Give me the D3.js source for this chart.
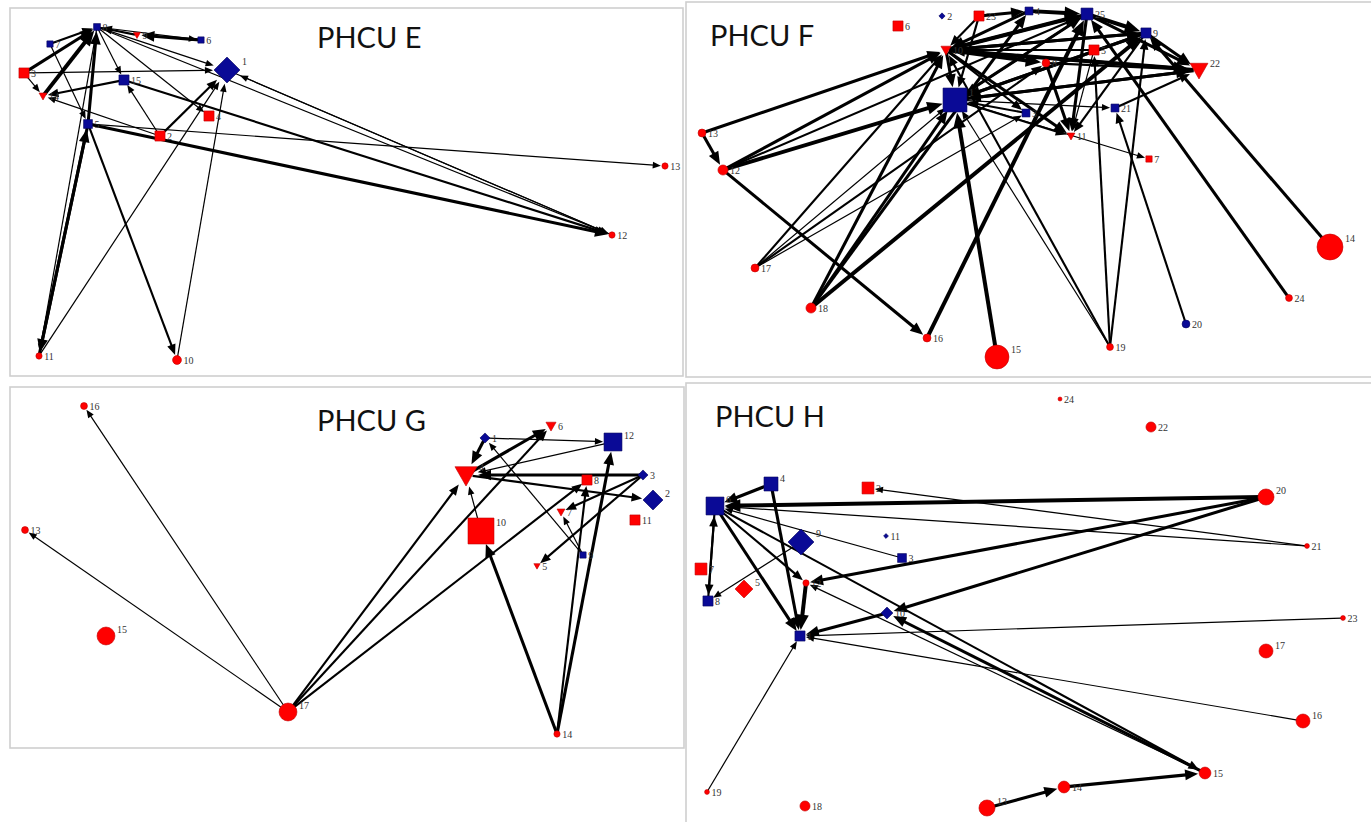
<!DOCTYPE html>
<html>
<head>
<meta charset="utf-8">
<script src="https://cdn.jsdelivr.net/npm/d3@7/dist/d3.min.js"></script>
<style>
  body { margin: 0; background: #fff; }
  .lbl { font-family: "Liberation Serif", serif; }
  .ttl { font-family: Lato, "Open Sans", sans-serif; }
</style>
</head>
<body>
<svg width="1371" height="822"></svg>
<script>
// nodes: [id, layoutX, layoutY, size, shape, group]  (c circle, s square, d diamond, t triangle; r / b group)
var nodesE = [
  [1, 217, 62, 86, "d", "b"], [2, 150, 128, 13, "s", "r"], [3, 14, 65, 13, "s", "r"],
  [4, 199, 108, 13, "s", "r"], [5, 78, 116, 10, "s", "b"], [6, 191, 32, 5, "s", "b"],
  [7, 40, 36, 5, "s", "b"], [8, 87, 19, 6, "s", "b"], [9, 127, 27, 6, "t", "r"],
  [10, 167, 352, 10, "c", "r"], [11, 29, 348, 5, "c", "r"], [12, 602, 227, 5, "c", "r"],
  [13, 655, 158, 5, "c", "r"], [14, 33, 88, 8, "t", "r"], [15, 114, 72, 13, "s", "b"]
];
// edges: [source, target, weight]
var edgesE = [
  [3, 8, 3], [14, 8, 4], [5, 8, 3], [7, 8, 2], [9, 8, 2], [8, 11, 1], [6, 9, 3], [8, 6, 1],
  [8, 1, 1], [3, 1, 1], [3, 14, 1], [15, 14, 2], [8, 15, 1], [2, 15, 1], [2, 1, 2], [8, 4, 1],
  [7, 5, 1], [2, 14, 1], [5, 13, 1], [1, 12, 1], [8, 12, 1], [15, 12, 2], [5, 12, 3],
  [12, 1, 1], [11, 1, 1], [10, 1, 1], [5, 10, 2], [5, 11, 3], [11, 5, 3]
];

var nodesF = [
  [1, 269, 98, 73, "s", "b"], [2, 256, 14, 5, "d", "b"], [3, 340, 111, 8, "s", "b"],
  [4, 343, 9, 8, "s", "b"], [5, 408, 48, 13, "s", "r"], [6, 212, 24, 13, "s", "r"],
  [7, 463, 157, 5, "s", "r"], [8, 360, 61, 8, "c", "r"], [9, 460, 31, 13, "s", "b"],
  [10, 260, 48, 13, "t", "r"], [11, 385, 134, 8, "t", "r"], [12, 37, 168, 13, "c", "r"],
  [13, 16, 131, 8, "c", "r"], [14, 644, 245, 86, "c", "r"], [15, 311, 355, 73, "c", "r"],
  [16, 241, 336, 8, "c", "r"], [17, 69, 266, 8, "c", "r"], [18, 125, 306, 13, "c", "r"],
  [19, 424, 345, 6, "c", "r"], [20, 500, 322, 8, "c", "b"], [21, 429, 106, 8, "s", "b"],
  [22, 513, 68, 41, "t", "r"], [23, 293, 14, 13, "s", "r"], [24, 603, 296, 6, "c", "r"],
  [25, 401, 12, 18, "s", "b"]
];
var edgesF = [
  [13, 12, 3], [13, 10, 3], [12, 10, 3], [12, 1, 4], [12, 25, 2], [12, 16, 3],
  [17, 10, 2], [17, 1, 1], [17, 8, 2], [17, 3, 1],
  [18, 10, 3], [18, 1, 3], [18, 4, 3], [18, 9, 4],
  [16, 25, 4], [15, 1, 4], [19, 1, 1], [19, 10, 2], [19, 5, 2], [19, 9, 2],
  [20, 21, 2], [24, 25, 3], [14, 9, 3],
  [23, 4, 3], [23, 10, 2], [4, 25, 4], [10, 25, 4], [10, 9, 3], [10, 22, 4], [1, 25, 3],
  [1, 9, 3], [1, 22, 3], [25, 9, 4], [25, 22, 3], [9, 22, 3], [8, 22, 2], [22, 1, 3],
  [22, 10, 3], [10, 1, 3], [25, 10, 3], [4, 10, 3], [25, 1, 2], [9, 10, 3], [21, 22, 2],
  [1, 21, 1], [3, 1, 2], [8, 11, 3], [25, 11, 3], [9, 11, 2], [10, 11, 3], [1, 11, 2],
  [10, 3, 2], [1, 7, 1], [5, 10, 2], [23, 1, 2], [10, 8, 4], [9, 1, 3], [5, 11, 1]
];

var nodesG = [
  [1, 475, 51, 13, "d", "b"], [2, 643, 113, 51, "d", "b"], [3, 633, 88, 13, "d", "b"],
  [4, 456, 88, 62, "t", "r"], [5, 527, 179, 5, "t", "r"], [6, 541, 39, 13, "t", "r"],
  [7, 551, 125, 8, "t", "r"], [8, 577, 93, 13, "s", "r"], [9, 573, 168, 5, "s", "b"],
  [10, 471, 144, 86, "s", "r"], [11, 625, 133, 13, "s", "r"], [12, 603, 55, 41, "s", "b"],
  [13, 15, 143, 6, "c", "r"], [14, 547, 347, 5, "c", "r"], [15, 96, 249, 41, "c", "r"],
  [16, 74, 19, 6, "c", "r"], [17, 278, 325, 41, "c", "r"]
];
var edgesG = [
  [17, 16, 1], [17, 13, 1], [17, 4, 2], [17, 6, 2], [17, 8, 2],
  [1, 4, 3], [1, 12, 1], [9, 1, 1], [4, 6, 3], [12, 4, 1], [3, 4, 3], [4, 2, 2],
  [3, 7, 2], [3, 5, 2], [9, 7, 1], [10, 4, 1], [14, 10, 3], [14, 8, 2], [14, 12, 3]
];

var nodesH = [
  [1, 114, 253, 13, "s", "b"], [2, 182, 105, 18, "s", "r"], [3, 216, 175, 10, "s", "b"],
  [4, 85, 101, 25, "s", "b"], [5, 58, 206, 41, "d", "r"], [6, 29, 123, 41, "s", "b"],
  [7, 15, 186, 18, "s", "r"], [8, 22, 218, 13, "s", "b"], [9, 115, 159, 86, "d", "b"],
  [10, 201, 230, 18, "d", "b"], [11, 200, 153, 3, "d", "b"], [12, 120, 200, 5, "c", "r"],
  [13, 301, 425, 33, "c", "r"], [14, 378, 404, 18, "c", "r"], [15, 519, 390, 18, "c", "r"],
  [16, 617, 338, 25, "c", "r"], [17, 580, 268, 25, "c", "r"], [18, 119, 423, 13, "c", "r"],
  [19, 21, 409, 3, "c", "r"], [20, 580, 114, 33, "c", "r"], [21, 621, 163, 3, "c", "r"],
  [22, 465, 44, 13, "c", "r"], [23, 657, 235, 3, "c", "r"], [24, 374, 16, 2, "c", "r"]
];
var edgesH = [
  [20, 6, 4], [21, 6, 1], [21, 2, 1], [20, 12, 3], [20, 10, 3], [10, 1, 3],
  [4, 6, 3], [4, 1, 3], [6, 8, 2], [8, 6, 2], [6, 12, 2], [6, 1, 3],
  [6, 15, 2], [15, 10, 3], [15, 12, 1], [3, 6, 1], [9, 8, 1], [12, 1, 4],
  [23, 1, 1], [16, 1, 1], [19, 1, 1], [13, 14, 3], [14, 15, 3]
];

var panels = [
  { title: "PHCU E", x: 10, y: 8, w: 673, h: 368, tx: 317, ty: 48, nodes: nodesE, edges: edgesE },
  { title: "PHCU F", x: 686, y: 2, w: 690, h: 375, tx: 710, ty: 46, nodes: nodesF, edges: edgesF },
  { title: "PHCU G", x: 10, y: 387, w: 674, h: 361, tx: 317, ty: 431, nodes: nodesG, edges: edgesG },
  { title: "PHCU H", x: 686, y: 383, w: 690, h: 445, tx: 715, ty: 427, nodes: nodesH, edges: edgesH }
];

var svg = d3.select("svg");
var color = { r: "#ff0000", b: "#0a0a96" };
var stroke = { r: "#c00000", b: "#05055e" };
var scaleSize = d3.scaleSqrt().domain([0, 100]).range([0, 14]);
var scaleWidth = d3.scaleLinear().domain([1, 4]).range([1.2, 4]);

function shapePath(shape, r) {
  if (shape === "s") return "M" + (-r) + "," + (-r) + "h" + 2 * r + "v" + 2 * r + "h" + (-2 * r) + "Z";
  if (shape === "d") return "M0," + (-r) + "L" + r + ",0L0," + r + "L" + (-r) + ",0Z";
  if (shape === "t") return "M" + (-r) + "," + (-r * 0.75) + "L" + r + "," + (-r * 0.75) + "L0," + r + "Z";
  return "M" + (-r) + ",0A" + r + "," + r + " 0 1,0 " + r + ",0A" + r + "," + r + " 0 1,0 " + (-r) + ",0Z";
}

panels.forEach(function(p) {
  var sx = d3.scaleLinear().domain([0, p.w]).range([p.x, p.x + p.w]);
  var sy = d3.scaleLinear().domain([0, p.h]).range([p.y, p.y + p.h]);
  var g = svg.append("g");

  g.append("rect")
    .attr("x", p.x).attr("y", p.y)
    .attr("width", p.w).attr("height", p.h)
    .attr("fill", "#fff")
    .attr("stroke", "#cfcfcf")
    .attr("stroke-width", 1.6);

  var byId = {};
  var nodes = p.nodes.map(function(n) {
    var d = { id: n[0], x: sx(n[1]), y: sy(n[2]), r: scaleSize(n[3]), shape: n[4], grp: n[5] };
    byId[d.id] = d;
    return d;
  });

  var links = p.edges.map(function(e) {
    var s = byId[e[0]], t = byId[e[1]], w = scaleWidth(e[2]);
    var dx = t.x - s.x, dy = t.y - s.y, len = Math.sqrt(dx * dx + dy * dy);
    var ux = dx / len, uy = dy / len;
    var tip = [t.x - ux * (t.r + 1), t.y - uy * (t.r + 1)];
    var L = 5 + 2.6 * w, hw = 2 + 1.1 * w;
    var base = [tip[0] - ux * L, tip[1] - uy * L];
    return {
      w: w,
      x1: s.x + ux * s.r * 0.6, y1: s.y + uy * s.r * 0.6,
      x2: base[0] + ux, y2: base[1] + uy,
      head: [tip, [base[0] - uy * hw, base[1] + ux * hw], [base[0] + uy * hw, base[1] - ux * hw]]
    };
  });

  g.append("g").selectAll("line")
    .data(links).enter()
    .append("line")
    .attr("x1", function(d) { return d.x1; })
    .attr("y1", function(d) { return d.y1; })
    .attr("x2", function(d) { return d.x2; })
    .attr("y2", function(d) { return d.y2; })
    .attr("stroke", "#000")
    .attr("stroke-width", function(d) { return d.w; });

  g.append("g").selectAll("path")
    .data(links).enter()
    .append("path")
    .attr("d", function(d) { return "M" + d.head.join("L") + "Z"; })
    .attr("fill", "#000");

  g.append("g").selectAll("path")
    .data(nodes).enter()
    .append("path")
    .attr("transform", function(d) { return "translate(" + d.x + "," + d.y + ")"; })
    .attr("d", function(d) { return shapePath(d.shape, d.r); })
    .attr("fill", function(d) { return color[d.grp]; })
    .attr("stroke", function(d) { return stroke[d.grp]; })
    .attr("stroke-width", 0.6);

  g.append("g").selectAll("text")
    .data(nodes).enter()
    .append("text")
    .attr("class", "lbl")
    .attr("x", function(d) { return d.x + d.r + 2; })
    .attr("y", function(d) { return d.r >= 7 ? d.y - d.r * 0.35 : d.y + 3.5; })
    .attr("font-size", 10)
    .attr("fill", "#333")
    .text(function(d) { return d.id; });

  g.append("text")
    .attr("class", "ttl")
    .attr("x", p.tx).attr("y", p.ty)
    .attr("font-size", 29)
    .attr("fill", "#111")
    .text(p.title);
});
</script>
</body>
</html>
